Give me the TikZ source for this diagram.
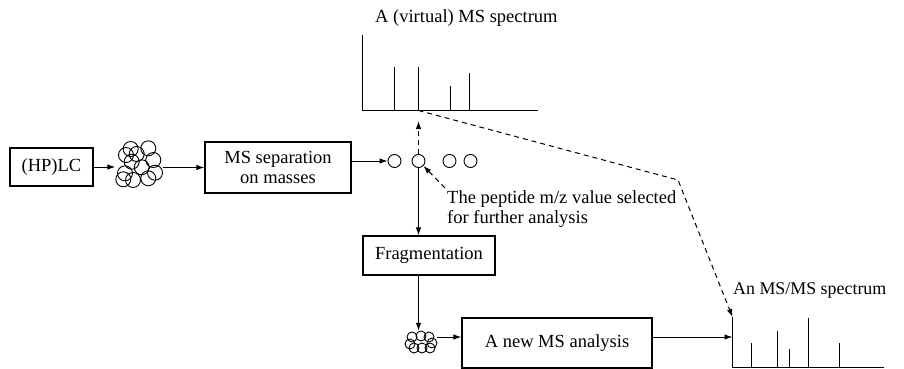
\documentclass[tikz,border=0pt]{standalone}
\usepackage{fontspec}
\setmainfont{Liberation Serif}
\usetikzlibrary{arrows.meta}
\begin{document}
\begin{tikzpicture}[x=1pt,y=-1pt,
  every node/.style={font=\fontsize{18.5}{20}\selectfont, inner sep=0pt},
  box/.style={draw, line width=1.2pt, align=center},
  arr/.style={-{Latex[length=8pt,width=5.5pt]}, line width=1pt},
  dsh/.style={dash pattern=on 5pt off 4pt, line width=1pt},
  ball/.style={draw, circle, line width=0.9pt, minimum size=13pt},
  grain/.style={line width=0.9pt},
  ax/.style={line width=1.2pt},
  pk/.style={line width=1.2pt}]
\useasboundingbox (0,0) rectangle (904,369);

% boxes
\node[box, minimum width=83pt, minimum height=38pt] (hplc) at (51.5,167) {(HP)LC};
\node[box, minimum width=146pt, minimum height=51pt] (mssep) at (278,167.5) {MS separation\\on masses};
\node[box, minimum width=132pt, minimum height=39pt] (frag) at (429,255.5) {Fragmentation};
\node[box, minimum width=190pt, minimum height=50pt] (newms) at (557,343) {A new MS analysis};

% mixture cluster
\node[minimum width=47pt, minimum height=50pt] (cl1) at (139,166) {};
\foreach \p in {(130.7,149),(148.3,148.3),(126,155),(136.7,154),(131.7,161.7),(153.3,160),
                (141.7,167.3),(155,172.7),(125,173.3),(148.3,178.3),(123.3,179.3),(133,180)}
  \draw[grain] \p circle[radius=7.5];

% separated ions
\node[ball] (p1) at (394.5,161) {};
\node[ball] (p2) at (418.5,161) {};
\node[ball] (p3) at (449.5,161) {};
\node[ball] (p4) at (470.5,161) {};

% fragment cluster
\node[minimum width=32pt, minimum height=22pt] (cl2) at (421,342) {};
\foreach \p in {(412,337),(421,336),(429,337),(432,343),(410,344),(414,348),(422,348),(430,348)}
  \draw[grain] \p circle[radius=5];

% upper spectrum
\coordinate (s1top) at (362.5,35);
\coordinate (s1o) at (362.5,110.5);
\coordinate (s1end) at (538,110.5);
\coordinate (s1sel) at (418.5,110.5);
\draw[ax] (s1top) -- (s1o) -- (s1end);
\draw[pk] (394.5,110.5) -- (394.5,66.5);
\draw[pk] (418.5,110.5) -- (418.5,66.5);
\draw[pk] (450.5,110.5) -- (450.5,85.5);
\draw[pk] (469.5,110.5) -- (469.5,72.5);
\node[anchor=base west] (t1) at (375,22.5) {A (virtual) MS spectrum};

% lower spectrum
\coordinate (s2top) at (732.5,317);
\coordinate (s2o) at (732.5,367.5);
\coordinate (s2end) at (884,367.5);
\draw[ax] (s2top) -- (s2o) -- (s2end);
\draw[pk] (751.5,367.5) -- (751.5,343);
\draw[pk] (777.5,367.5) -- (777.5,331);
\draw[pk] (789.5,367.5) -- (789.5,349);
\draw[pk] (808.5,367.5) -- (808.5,318);
\draw[pk] (839.5,367.5) -- (839.5,343);
\node[anchor=base west, font=\fontsize{17.9}{20}\selectfont] (t2) at (733,294) {An MS/MS spectrum};

% annotation
\node[anchor=north west, align=left] (note) at (447,190.5) {The peptide m/z value selected\\for further analysis};
\coordinate (noteTail) at (445,188);
\coordinate (upTip) at (418.5,121);
\coordinate (bend) at (678,180);

% connectors
\draw[arr] (hplc.east) -- (cl1.west |- hplc.east);
\draw[arr] (cl1.east |- mssep.west) -- (mssep.west);
\draw[arr] (mssep.east |- p1.west) -- (p1.west);
\draw[arr, dsh] (p2.north) -- (upTip);
\draw[arr, dsh] (noteTail) -- (p2.south east);
\draw[arr] (p2.south) -- (frag.north -| p2.south);
\draw[arr] (frag.south -| p2.south) -- (cl2.north -| p2.south);
\draw[arr] (cl2.east |- 0,337) -- (newms.west |- 0,337);
\draw[arr] (newms.east |- 0,337) -- (s2top |- 0,337);
\draw[arr, dsh] (s1sel) -- (bend) -- (s2top);
\end{tikzpicture}
\end{document}
